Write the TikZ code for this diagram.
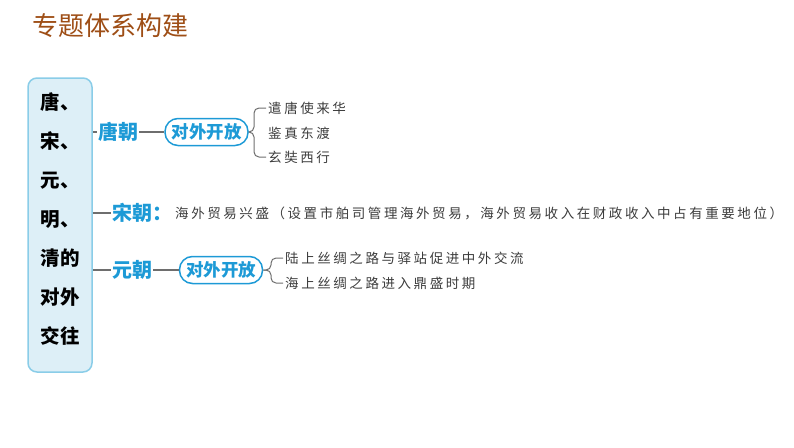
\documentclass[tikz,border=0pt]{standalone}
\usepackage{fontspec}
\usepackage{tikz}
\usetikzlibrary{positioning, calc}

\newfontfamily\cjk{Noto Sans CJK SC}
\newfontfamily\hand[LetterSpace=19]{Noto Sans CJK SC}
\setmainfont{Noto Sans CJK SC}

\definecolor{titlebrown}{RGB}{158,78,22}
\definecolor{mapblue}{RGB}{29,154,214}
\definecolor{boxfill}{RGB}{221,239,247}
\definecolor{boxline}{RGB}{138,205,232}
\definecolor{linegray}{RGB}{110,110,110}
\definecolor{handgray}{RGB}{60,60,60}

\begin{document}
\begin{tikzpicture}[x=1pt, y=-1pt,
		topicbox/.style={draw=boxline, line width=1.5pt, fill=boxfill, rounded corners=9, minimum width=64, minimum height=294},
		dynasty/.style={text=mapblue, font=\cjk\bfseries\fontsize{20}{22}\selectfont, inner sep=1pt, anchor=west},
		openbox/.style={draw=mapblue, line width=1.5pt, rounded corners=13, minimum width=83, minimum height=27, inner sep=0pt, text=mapblue, font=\cjk\bfseries\fontsize{17.5}{18}\selectfont},
		item/.style={text=handgray, font=\hand\fontsize{13.5}{16}\selectfont, inner sep=2pt, anchor=west},
		conn/.style={draw=linegray, line width=1.2pt},
		brace/.style={conn, line width=1pt, rounded corners=5}]
	\useasboundingbox (0,0) rectangle (794,447);

	% title
	\node[anchor=west, inner sep=0pt, text=titlebrown, font=\cjk\fontsize{26}{30}\selectfont] (title) at (32,26) {专题体系构建};

	% left box
	\node[topicbox] (box) at (60,225) {};
	\node[align=center, inner sep=0pt, font=\cjk\bfseries\fontsize{19.5}{39}\selectfont] (boxtext) at (60,219.5) {唐、\\宋、\\元、\\明、\\清的\\对外\\交往};

	% Tang
	\node[dynasty] (tang) at (97,132) {唐朝};
	\node[openbox] (k1) at (206.5,132) {对外开放};
	\coordinate (b1) at (254,132);
	\node[item] (t1) at (266,108) {遣唐使来华};
	\node[item] (t2) at (266,133) {鉴真东渡};
	\node[item] (t3) at (266,157) {玄奘西行};

	\draw[conn] (box.east |- tang.west) -- (tang.west);
	\draw[conn] (tang) -- (k1);
	\draw[brace] (t1.west) -| (b1) -- (k1.east);
	\draw[brace] (k1.east) -- (b1) |- (t3.west);

	% Song
	\node[dynasty] (song) at (111,213) {宋朝：};
	\node[item] (s1) at (173,213) {海外贸易兴盛（设置市舶司管理海外贸易，海外贸易收入在财政收入中占有重要地位）};
	\draw[conn] (box.east |- song.west) -- (song.west);

	% Yuan
	\node[dynasty] (yuan) at (111,270) {元朝};
	\node[openbox] (k2) at (221,270) {对外开放};
	\coordinate (b2) at (271,270);
	\node[item] (y1) at (283,258) {陆上丝绸之路与驿站促进中外交流};
	\node[item] (y2) at (283,283) {海上丝绸之路进入鼎盛时期};

	\draw[conn] (box.east |- yuan.west) -- (yuan.west);
	\draw[conn] (yuan) -- (k2);
	\draw[brace] (y1.west) -| (b2) -- (k2.east);
	\draw[brace] (k2.east) -- (b2) |- (y2.west);
\end{tikzpicture}
\end{document}
